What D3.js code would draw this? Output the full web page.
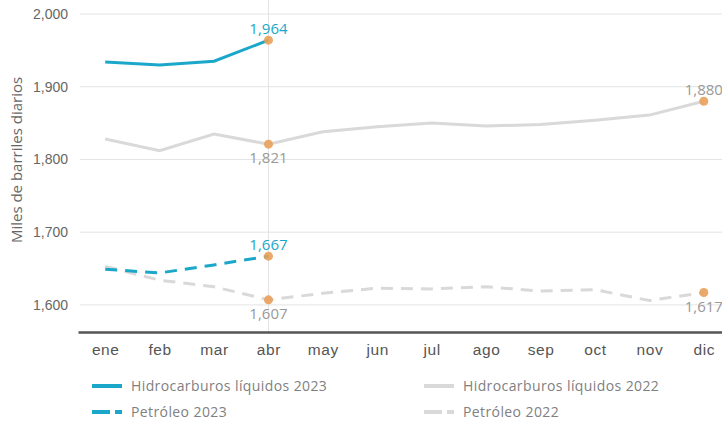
<!DOCTYPE html>
<html lang="es">
<head>
<meta charset="UTF-8">
<title>Producción de hidrocarburos</title>
<script src="https://d3js.org/d3.v7.min.js"></script>
<style>
  body { margin: 0; background: #fff; }
  svg { font-family: "Open Sans", "Lato", sans-serif; }
</style>
</head>
<body>
<svg width="722" height="421"></svg>
<script>
// data
const months = ["ene","feb","mar","abr","may","jun","jul","ago","sep","oct","nov","dic"];
const hidro2023 = [1934, 1930, 1935, 1964];
const hidro2022 = [1828, 1812, 1835, 1821, 1838, 1845, 1850, 1846, 1848, 1854, 1861, 1880];
const petro2023 = [1649, 1644, 1655, 1667];
const petro2022 = [1653, 1634, 1625, 1607, 1616, 1623, 1622, 1625, 1619, 1621, 1606, 1617];
const yTicks = [1600, 1700, 1800, 1900, 2000];

const blue = "#1ba7c9", grey = "#d9d9d9", dot = "#e9a05a";

const svg = d3.select("svg");
const x = d3.scalePoint().domain(months).range([78, 731]).padding(0.5);
const y = d3.scaleLinear().domain([1560, 2000]).range([334, 14]);

// grid
svg.append("g").selectAll("line").data(yTicks).join("line")
  .attr("x1", 80).attr("x2", 722)
  .attr("y1", d => y(d)).attr("y2", d => y(d))
  .attr("stroke", "#e3e3e3").attr("stroke-width", 1);

// y axis labels
const yAxis = svg.append("g").attr("transform", "translate(68,0)")
  .call(d3.axisLeft(y).tickValues(yTicks).tickFormat(d3.format(",")).tickSize(0).tickPadding(0));
yAxis.select(".domain").remove();
yAxis.selectAll(".tick text").style("font-size", "14px").style("fill", "#666");

// vertical marker at abr
svg.append("line")
  .attr("x1", x("abr")).attr("x2", x("abr"))
  .attr("y1", 0).attr("y2", 334)
  .attr("stroke", "#e3e3e3").attr("stroke-width", 1);

// x axis
const xAxis = svg.append("g").attr("transform", "translate(0,332)")
  .call(d3.axisBottom(x).tickSize(0).tickPadding(12));
xAxis.select(".domain").attr("stroke", "#555").attr("stroke-width", 2.5);
xAxis.selectAll(".tick text").style("font-size", "15.5px").style("fill", "#555")
  .style("letter-spacing", "0.6px");

svg.append("text")
  .attr("transform", "translate(22,160) rotate(-90)")
  .attr("text-anchor", "middle")
  .attr("fill", "#666").attr("font-size", 15)
  .text("Miles de barriles diarios");

const line = d3.line().x((d, i) => x(months[i])).y(d => y(d));

const series = [
  { data: hidro2022, color: grey, dash: null },
  { data: petro2022, color: grey, dash: "12,8" },
  { data: hidro2023, color: blue, dash: null },
  { data: petro2023, color: blue, dash: "12,8" }
];
series.forEach(s => {
  svg.append("path").datum(s.data)
    .attr("d", line)
    .attr("fill", "none")
    .attr("stroke", s.color)
    .attr("stroke-width", 3)
    .attr("stroke-dasharray", s.dash);
});

// highlighted points
const marks = [
  { m: "abr", v: hidro2023[3], c: blue, above: true },
  { m: "abr", v: hidro2022[3], c: "#999", above: false },
  { m: "abr", v: petro2023[3], c: blue, above: true },
  { m: "abr", v: petro2022[3], c: "#999", above: false },
  { m: "dic", v: hidro2022[11], c: "#999", above: true },
  { m: "dic", v: petro2022[11], c: "#999", above: false }
];
marks.forEach(d => {
  svg.append("circle")
    .attr("cx", x(d.m)).attr("cy", y(d.v)).attr("r", 4.5)
    .attr("fill", dot).attr("opacity", 0.9);
  svg.append("text")
    .attr("x", x(d.m)).attr("y", y(d.v) + (d.above ? -6 : 19))
    .attr("text-anchor", "middle")
    .attr("fill", d.c).attr("font-size", 15)
    .text(d3.format(",")(d.v));
});

// legend
const legend = [
  { label: "Hidrocarburos líquidos 2023", color: blue, dash: null, lx: 92, ly: 386 },
  { label: "Petróleo 2023", color: blue, dash: "18,5", lx: 92, ly: 412 },
  { label: "Hidrocarburos líquidos 2022", color: grey, dash: null, lx: 424, ly: 386 },
  { label: "Petróleo 2022", color: grey, dash: "18,5", lx: 424, ly: 412 }
];
const lg = svg.append("g").selectAll("g").data(legend).join("g")
  .attr("transform", d => `translate(${d.lx},${d.ly})`);
lg.append("line").attr("x1", 0).attr("x2", 30)
  .attr("stroke", d => d.color).attr("stroke-width", 4)
  .attr("stroke-dasharray", d => d.dash);
lg.append("text").attr("x", 39).attr("dy", "0.35em")
  .attr("fill", "#808080").attr("font-size", 14)
  .attr("letter-spacing", 0.4)
  .text(d => d.label);
</script>
</body>
</html>
